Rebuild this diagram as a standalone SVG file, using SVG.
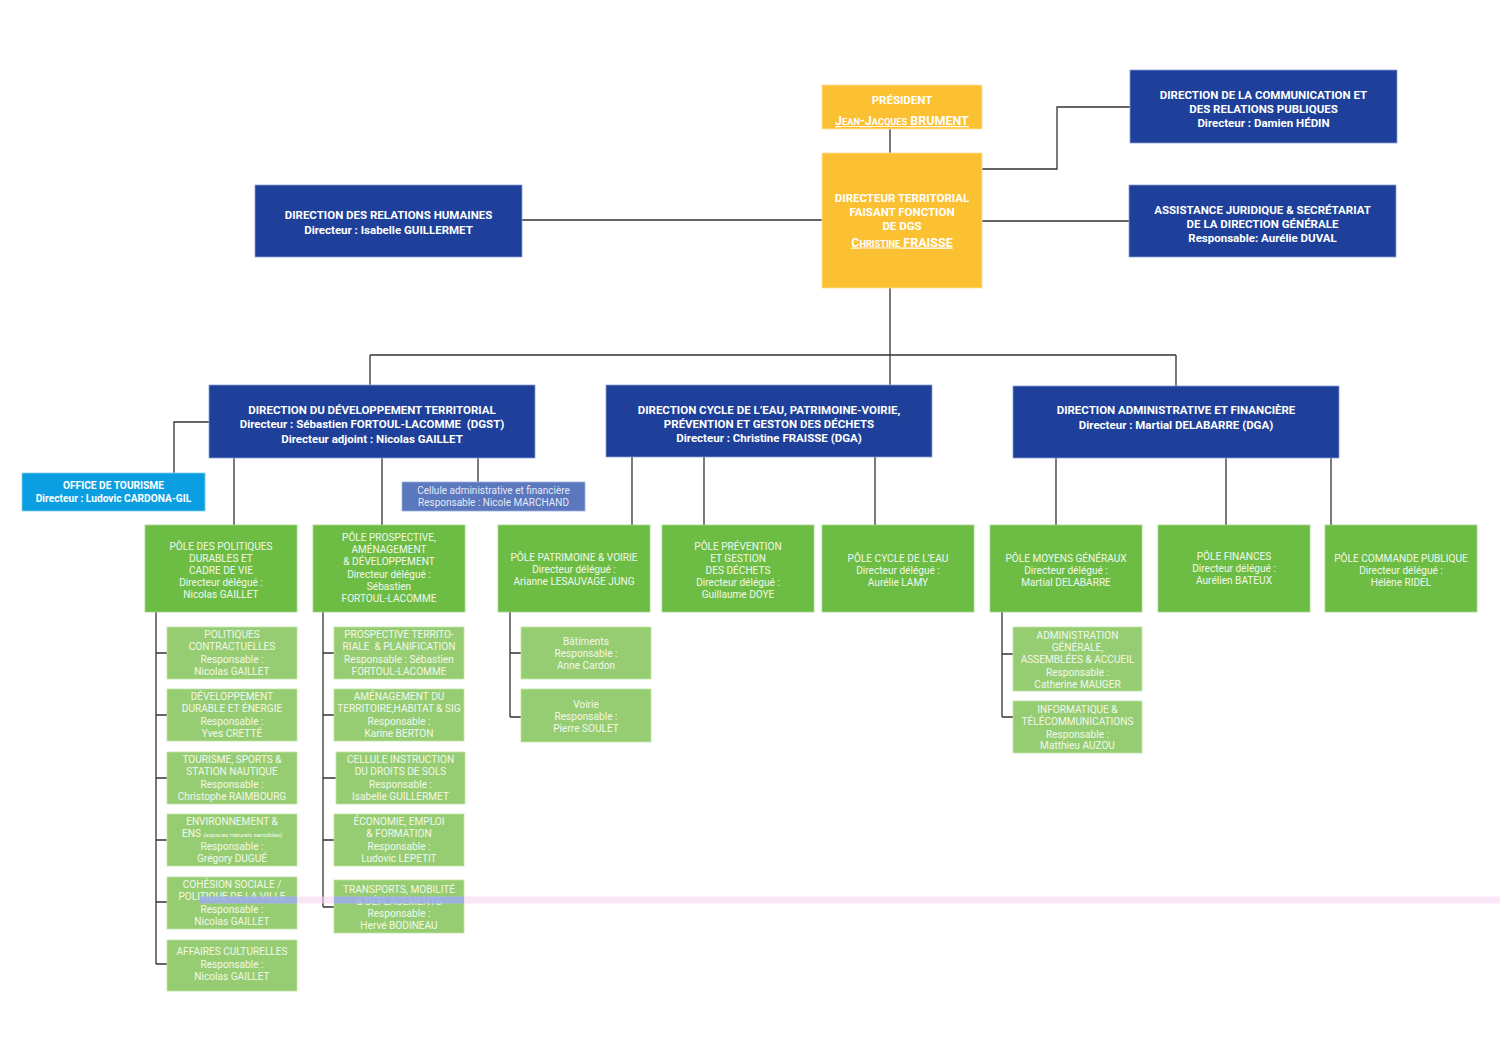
<svg xmlns="http://www.w3.org/2000/svg" width="1500" height="1061" viewBox="0 0 1500 1061">
<style>
text{font-family:Roboto,"Liberation Sans",sans-serif;text-anchor:middle}
.bb{fill:#1e3f9a;stroke:#8da0d2;stroke-width:0.8}
.yb{fill:#fcc133;stroke:#fde29a;stroke-width:0.8}
.gp{fill:#6dbd45;stroke:#a4d88a;stroke-width:0.8}
.gs{fill:#97cd72;stroke:#c0e3a8;stroke-width:0.8}
.ot{fill:#0b9fe2;stroke:#7fcdf2;stroke-width:0.8}
.ce{fill:#5b77bd;stroke:#9fb0dc;stroke-width:0.8}
.tb{font-size:11.5px;font-weight:bold;fill:#ffffff}
.tg{font-size:10.1px;fill:#f1f8ec}
.tc{font-size:10px;fill:#e4e9f6}
.ln{stroke:#333333;stroke-width:1.3;fill:none}
</style>
<rect width="1500" height="1061" fill="#ffffff"/>
<g id="connectors">
<path class="ln" d="M890 129V153M890 288V385M370 355H1176M370 355V385M1176 355V386M982 169H1057V107H1130M982 221H1129M522 220H822M209 422H174V473M478 458V482"/>
<path class="ln" d="M234 458V525M382 458V525M632 457V525M704 457V525M875 457V525M1056 458V525M1226 458V525M1331 458V525"/>
<path class="ln" d="M156 612V964M156 653H167M156 715H167M156 778H167M156 840H167M156 902H167M156 964H167"/>
<path class="ln" d="M323 612V907M323 653H334M323 715H334M323 778H336M323 840H334M323 907H334"/>
<path class="ln" d="M510 612V717M510 653H521M510 717H521"/>
<path class="ln" d="M1002 612V717M1002 654H1013M1002 717H1013"/>
</g>
<g id="president">
<rect class="yb" x="822" y="85" width="160" height="44"/>
<text class="tb" x="902" y="103.5">PRÉSIDENT</text>
<text class="tb" x="902" y="125" style="font-size:12.5px" text-decoration="underline">J<tspan style="font-size:9.2px">EAN</tspan>-J<tspan style="font-size:9.2px">ACQUES</tspan> BRUMENT</text>
</g>
<g id="dgs">
<rect class="yb" x="822" y="153" width="160" height="135"/>
<text class="tb" x="902" y="202">DIRECTEUR TERRITORIAL</text>
<text class="tb" x="902" y="216">FAISANT FONCTION</text>
<text class="tb" x="902" y="230">DE DGS</text>
<text class="tb" x="902" y="246.5" style="font-size:12.5px" text-decoration="underline">C<tspan style="font-size:9.2px">HRISTINE</tspan> FRAISSE</text>
</g>
<g id="communication">
<rect class="bb" x="1130" y="70" width="267" height="73"/>
<text class="tb" x="1263.5" y="98.5">DIRECTION DE LA COMMUNICATION ET</text>
<text class="tb" x="1263.5" y="112.5">DES RELATIONS PUBLIQUES</text>
<text class="tb" x="1263.5" y="126.5">Directeur : Damien HÉDIN</text>
</g>
<g id="assistance">
<rect class="bb" x="1129" y="185" width="267" height="72"/>
<text class="tb" x="1262.5" y="213.5">ASSISTANCE JURIDIQUE &amp; SECRÉTARIAT</text>
<text class="tb" x="1262.5" y="227.5">DE LA DIRECTION GÉNÉRALE</text>
<text class="tb" x="1262.5" y="242">Responsable: Aurélie DUVAL</text>
</g>
<g id="drh">
<rect class="bb" x="255" y="185" width="267" height="72"/>
<text class="tb" x="388.5" y="219">DIRECTION DES RELATIONS HUMAINES</text>
<text class="tb" x="388.5" y="233.5">Directeur : Isabelle GUILLERMET</text>
</g>
<g id="dgst">
<rect class="bb" x="209" y="385" width="326" height="73"/>
<text class="tb" x="372" y="413.5">DIRECTION DU DÉVELOPPEMENT TERRITORIAL</text>
<text class="tb" x="372" y="428" xml:space="preserve">Directeur : Sébastien FORTOUL-LACOMME  (DGST)</text>
<text class="tb" x="372" y="442.5">Directeur adjoint : Nicolas GAILLET</text>
</g>
<g id="dce">
<rect class="bb" x="606" y="385" width="326" height="72"/>
<text class="tb" x="769" y="413.5">DIRECTION CYCLE DE L’EAU, PATRIMOINE-VOIRIE,</text>
<text class="tb" x="769" y="428">PRÉVENTION ET GESTON DES DÉCHETS</text>
<text class="tb" x="769" y="442">Directeur : Christine FRAISSE (DGA)</text>
</g>
<g id="daf">
<rect class="bb" x="1013" y="386" width="326" height="72"/>
<text class="tb" x="1176" y="414">DIRECTION ADMINISTRATIVE ET FINANCIÈRE</text>
<text class="tb" x="1176" y="428.5">Directeur : Martial DELABARRE (DGA)</text>
</g>
<g id="office-tourisme">
<rect class="ot" x="22" y="473" width="183" height="38"/>
<text class="tb" x="113.5" y="488.5" style="font-size:10.2px">OFFICE DE TOURISME</text>
<text class="tb" x="113.5" y="501.5" style="font-size:10.2px">Directeur : Ludovic CARDONA-GIL</text>
</g>
<g id="cellule-admin">
<rect class="ce" x="402" y="482" width="183" height="29"/>
<text class="tc" x="493.5" y="493.5">Cellule administrative et financière</text>
<text class="tc" x="493.5" y="505.5">Responsable : Nicole MARCHAND</text>
</g>
<g id="pole-politiques-durables">
<rect class="gp" x="145" y="525" width="152" height="87"/>
<text class="tg" x="221" y="549.6">PÔLE DES POLITIQUES</text>
<text class="tg" x="221" y="561.8">DURABLES ET</text>
<text class="tg" x="221" y="574">CADRE DE VIE</text>
<text class="tg" x="221" y="586.2">Directeur délégué :</text>
<text class="tg" x="221" y="598.4">Nicolas GAILLET</text>
</g>
<g id="pole-prospective">
<rect class="gp" x="313" y="525" width="152" height="87"/>
<text class="tg" x="389" y="541">PÔLE PROSPECTIVE,</text>
<text class="tg" x="389" y="553.2">AMÉNAGEMENT</text>
<text class="tg" x="389" y="565.4">&amp; DÉVELOPPEMENT</text>
<text class="tg" x="389" y="577.6">Directeur délégué :</text>
<text class="tg" x="389" y="589.8">Sébastien</text>
<text class="tg" x="389" y="602">FORTOUL-LACOMME</text>
</g>
<g id="pole-patrimoine">
<rect class="gp" x="498" y="525" width="152" height="87"/>
<text class="tg" x="574" y="560.6">PÔLE PATRIMOINE &amp; VOIRIE</text>
<text class="tg" x="574" y="572.8">Directeur délégué :</text>
<text class="tg" x="574" y="585">Arianne LESAUVAGE JUNG</text>
</g>
<g id="pole-prevention">
<rect class="gp" x="662" y="525" width="152" height="87"/>
<text class="tg" x="738" y="549.6">PÔLE PRÉVENTION</text>
<text class="tg" x="738" y="561.8">ET GESTION</text>
<text class="tg" x="738" y="574">DES DÉCHETS</text>
<text class="tg" x="738" y="586.2">Directeur délégué :</text>
<text class="tg" x="738" y="598.4">Guillaume DOYE</text>
</g>
<g id="pole-cycle-eau">
<rect class="gp" x="822" y="525" width="152" height="87"/>
<text class="tg" x="898" y="561.6">PÔLE CYCLE DE L’EAU</text>
<text class="tg" x="898" y="573.8">Directeur délégué :</text>
<text class="tg" x="898" y="586">Aurélie LAMY</text>
</g>
<g id="pole-moyens-generaux">
<rect class="gp" x="990" y="525" width="152" height="87"/>
<text class="tg" x="1066" y="561.6">PÔLE MOYENS GÉNÉRAUX</text>
<text class="tg" x="1066" y="573.8">Directeur délégué :</text>
<text class="tg" x="1066" y="586">Martial DELABARRE</text>
</g>
<g id="pole-finances">
<rect class="gp" x="1158" y="525" width="152" height="87"/>
<text class="tg" x="1234" y="560">PÔLE FINANCES</text>
<text class="tg" x="1234" y="572.2">Directeur délégué :</text>
<text class="tg" x="1234" y="584.4">Aurélien BATEUX</text>
</g>
<g id="pole-commande-publique">
<rect class="gp" x="1325" y="525" width="152" height="87"/>
<text class="tg" x="1401" y="561.6">PÔLE COMMANDE PUBLIQUE</text>
<text class="tg" x="1401" y="573.8">Directeur délégué :</text>
<text class="tg" x="1401" y="586">Hélène RIDEL</text>
</g>
<g id="politiques-contractuelles">
<rect class="gs" x="167" y="627" width="130" height="52"/>
<text class="tg" x="232" y="638">POLITIQUES</text>
<text class="tg" x="232" y="650.3">CONTRACTUELLES</text>
<text class="tg" x="232" y="662.6">Responsable :</text>
<text class="tg" x="232" y="674.9">Nicolas GAILLET</text>
</g>
<g id="developpement-durable">
<rect class="gs" x="167" y="689" width="130" height="52"/>
<text class="tg" x="232" y="700">DÉVELOPPEMENT</text>
<text class="tg" x="232" y="712.3">DURABLE ET ÉNERGIE</text>
<text class="tg" x="232" y="724.6">Responsable :</text>
<text class="tg" x="232" y="736.9">Yves CRETTÉ</text>
</g>
<g id="tourisme-sports">
<rect class="gs" x="167" y="752" width="130" height="52"/>
<text class="tg" x="232" y="763">TOURISME, SPORTS &amp;</text>
<text class="tg" x="232" y="775.3">STATION NAUTIQUE</text>
<text class="tg" x="232" y="787.6">Responsable :</text>
<text class="tg" x="232" y="799.9">Christophe RAIMBOURG</text>
</g>
<g id="environnement-ens">
<rect class="gs" x="167" y="814" width="130" height="52"/>
<text class="tg" x="232" y="825">ENVIRONNEMENT &amp;</text>
<text class="tg" x="232" y="837.3">ENS <tspan style="font-size:6.2px">(espaces naturels sensibles)</tspan></text>
<text class="tg" x="232" y="849.6">Responsable :</text>
<text class="tg" x="232" y="861.9">Grégory DUGUÉ</text>
</g>
<g id="cohesion-sociale">
<rect class="gs" x="167" y="877" width="130" height="52"/>
<text class="tg" x="232" y="888">COHÉSION SOCIALE /</text>
<text class="tg" x="232" y="900.3">POLITIQUE DE LA VILLE</text>
<text class="tg" x="232" y="912.6">Responsable :</text>
<text class="tg" x="232" y="924.9">Nicolas GAILLET</text>
</g>
<g id="affaires-culturelles">
<rect class="gs" x="167" y="940" width="130" height="51"/>
<text class="tg" x="232" y="955.3">AFFAIRES CULTURELLES</text>
<text class="tg" x="232" y="967.6">Responsable :</text>
<text class="tg" x="232" y="979.9">Nicolas GAILLET</text>
</g>
<g id="prospective-territoriale">
<rect class="gs" x="334" y="627" width="130" height="52"/>
<text class="tg" x="399" y="638">PROSPECTIVE TERRITO-</text>
<text class="tg" x="399" y="650.3" xml:space="preserve">RIALE  &amp; PLANIFICATION</text>
<text class="tg" x="399" y="662.6">Responsable : Sébastien</text>
<text class="tg" x="399" y="674.9">FORTOUL-LACOMME</text>
</g>
<g id="amenagement-territoire">
<rect class="gs" x="334" y="689" width="130" height="52"/>
<text class="tg" x="399" y="700">AMÉNAGEMENT DU</text>
<text class="tg" x="399" y="712.3">TERRITOIRE,HABITAT &amp; SIG</text>
<text class="tg" x="399" y="724.6">Responsable :</text>
<text class="tg" x="399" y="736.9">Karine BERTON</text>
</g>
<g id="cellule-instruction">
<rect class="gs" x="336" y="752" width="129" height="52"/>
<text class="tg" x="400.5" y="763">CELLULE INSTRUCTION</text>
<text class="tg" x="400.5" y="775.3">DU DROITS DE SOLS</text>
<text class="tg" x="400.5" y="787.6">Responsable :</text>
<text class="tg" x="400.5" y="799.9">Isabelle GUILLERMET</text>
</g>
<g id="economie-emploi">
<rect class="gs" x="334" y="814" width="130" height="52"/>
<text class="tg" x="399" y="825">ÉCONOMIE, EMPLOI</text>
<text class="tg" x="399" y="837.3">&amp; FORMATION</text>
<text class="tg" x="399" y="849.6">Responsable :</text>
<text class="tg" x="399" y="861.9">Ludovic LEPETIT</text>
</g>
<g id="transports-mobilite">
<rect class="gs" x="334" y="880" width="130" height="53"/>
<text class="tg" x="399" y="892.6">TRANSPORTS, MOBILITÉ</text>
<text class="tg" x="399" y="904.6">&amp; DÉPLACEMENTS</text>
<text class="tg" x="399" y="917">Responsable :</text>
<text class="tg" x="399" y="929">Hervé BODINEAU</text>
</g>
<g id="batiments">
<rect class="gs" x="521" y="627" width="130" height="52"/>
<text class="tg" x="586" y="644.6">Bâtiments</text>
<text class="tg" x="586" y="656.9">Responsable :</text>
<text class="tg" x="586" y="669">Anne Cardon</text>
</g>
<g id="voirie">
<rect class="gs" x="521" y="689" width="130" height="53"/>
<text class="tg" x="586" y="708">Voirie</text>
<text class="tg" x="586" y="720">Responsable :</text>
<text class="tg" x="586" y="732.3">Pierre SOULET</text>
</g>
<g id="administration-generale">
<rect class="gs" x="1013" y="627" width="129" height="64"/>
<text class="tg" x="1077.5" y="638.6">ADMINISTRATION</text>
<text class="tg" x="1077.5" y="650.9">GÉNÉRALE,</text>
<text class="tg" x="1077.5" y="663.2">ASSEMBLÉES &amp; ACCUEIL</text>
<text class="tg" x="1077.5" y="675.5">Responsable :</text>
<text class="tg" x="1077.5" y="687.8">Catherine MAUGER</text>
</g>
<g id="informatique">
<rect class="gs" x="1013" y="701" width="129" height="52"/>
<text class="tg" x="1077.5" y="712.9">INFORMATIQUE &amp;</text>
<text class="tg" x="1077.5" y="725.2">TÉLÉCOMMUNICATIONS</text>
<text class="tg" x="1077.5" y="737.5">Responsable :</text>
<text class="tg" x="1077.5" y="749.3">Matthieu AUZOU</text>
</g>
<rect x="200" y="896.5" width="1300" height="7" fill="#f9d6f3" opacity="0.6"/>
<rect x="200" y="896.5" width="97" height="7" fill="#7f9fe6" opacity="0.65"/>
<rect x="334" y="896.5" width="130" height="7" fill="#7f9fe6" opacity="0.65"/>
</svg>
